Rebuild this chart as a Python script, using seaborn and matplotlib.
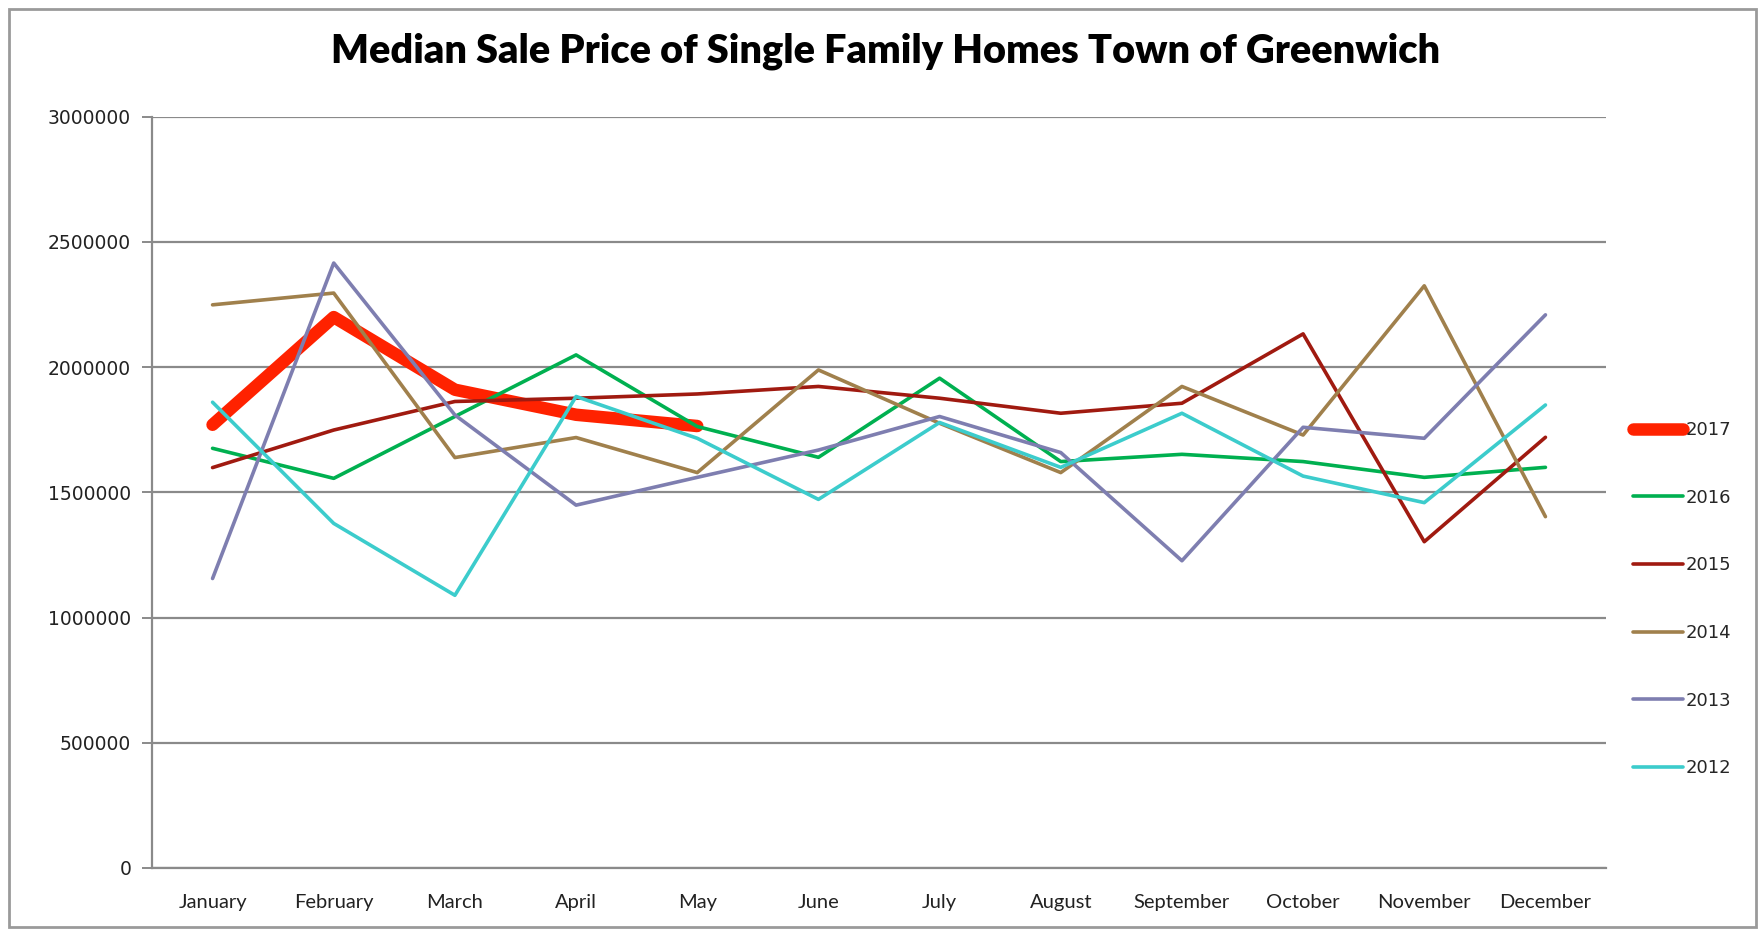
import matplotlib
matplotlib.use("Agg")
import matplotlib.pyplot as plt
import numpy as np
import pandas as pd
import seaborn as sns
from matplotlib.patches import Rectangle

months = ["January", "February", "March", "April", "May", "June", "July",
          "August", "September", "October", "November", "December"]

price_2017 = [1770000, 2200000, 1910000, 1810000, 1765000]
price_2016 = [1676000, 1556000, 1803000, 2049000, 1763000, 1640000, 1956000,
              1623000, 1652000, 1623000, 1560000, 1600000]
price_2015 = [1599000, 1749000, 1863000, 1876000, 1893000, 1923000, 1876000,
              1816000, 1856000, 2133000, 1303000, 1720000]
price_2014 = [2249000, 2296000, 1639000, 1719000, 1579000, 1989000, 1776000,
              1579000, 1923000, 1729000, 2325000, 1403000]
price_2013 = [1156000, 2416000, 1809000, 1449000, 1560000, 1669000, 1803000,
              1659000, 1227000, 1760000, 1716000, 2209000]
price_2012 = [1860000, 1376000, 1089000, 1883000, 1716000, 1472000, 1779000,
              1600000, 1816000, 1565000, 1459000, 1849000]

years = ["2017", "2016", "2015", "2014", "2013", "2012"]
series = [price_2017, price_2016, price_2015, price_2014, price_2013, price_2012]
colors = ["#FF2200", "#00B050", "#A01A10", "#A0804C", "#7E7EB0", "#3CCCCC"]
widths = [9, 2.6, 2.6, 2.6, 2.6, 2.6]

sns.set_theme(style="white")
plt.rcParams["font.family"] = ["DejaVu Sans"]

fig = plt.figure(figsize=(17.61, 9.32), dpi=100)
ax = fig.add_axes([0.0863, 0.0687, 0.912 - 0.0863, 0.806])

for year, values, color, lw in zip(years, series, colors, widths):
    df = pd.DataFrame({"month": np.arange(len(values)), "price": values})
    sns.lineplot(data=df, x="month", y="price", ax=ax, color=color, linewidth=lw,
                 label=year, solid_capstyle="round", solid_joinstyle="round", legend=False)

ax.set_xlim(-0.5, 11.5)
ax.set_ylim(0, 3000000)
ax.set_yticks(np.arange(0, 3000001, 500000))
ax.set_yticklabels([str(v) for v in range(0, 3000001, 500000)],
                   family="DejaVu Sans", fontsize=13.5, color="#222222")
ax.yaxis.grid(True, color="#8a8a8a", linewidth=1.6)
ax.set_axisbelow(True)

ax.set_xticks(np.arange(12))
ax.set_xticklabels(months, family="Lato", fontsize=14.5, color="#222222")
ax.set_xticks(np.arange(-0.5, 12, 1), minor=True)
ax.tick_params(axis="x", which="major", length=0, pad=19)
ax.tick_params(axis="x", which="minor", length=7, width=1.4, color="#8a8a8a", direction="out")
ax.tick_params(axis="y", length=7, width=1.4, color="#8a8a8a", direction="out", pad=8, left=True)
ax.set_xlabel("")
ax.set_ylabel("")

for side in ["top", "right"]:
    ax.spines[side].set_visible(False)
for side in ["left", "bottom"]:
    ax.spines[side].set_color("#8a8a8a")
    ax.spines[side].set_linewidth(1.6)

handles, labels = ax.get_legend_handles_labels()
fig.legend(handles, labels, loc="center left", bbox_to_anchor=(0.922, 0.357),
           frameon=False, fontsize=13, handlelength=2.8, handletextpad=0.15,
           labelspacing=2.75, borderpad=0)

fig.text(0.503, 0.945, "Median Sale Price of Single Family Homes Town of Greenwich",
         ha="center", va="center", fontsize=28.5, fontweight="heavy", family="Lato", color="black")

fig.patches.append(Rectangle((0.005, 0.005), 0.992, 0.985, transform=fig.transFigure,
                             fill=False, edgecolor="#9a9a9a", linewidth=2))

fig.savefig("out.png", dpi=100)
